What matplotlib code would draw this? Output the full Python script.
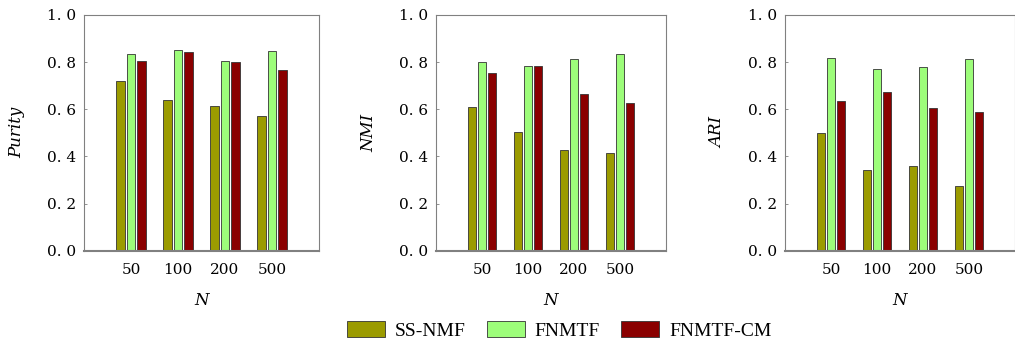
import matplotlib
matplotlib.use("Agg")
import matplotlib.pyplot as plt
import numpy as np
from matplotlib.patches import Patch

categories = ["50", "100", "200", "500"]
series_names = ["SS-NMF", "FNMTF", "FNMTF-CM"]
purity = {
    "SS-NMF": [0.719, 0.639, 0.614, 0.573],
    "FNMTF": [0.834, 0.851, 0.805, 0.847],
    "FNMTF-CM": [0.805, 0.842, 0.800, 0.768],
}
nmi = {
    "SS-NMF": [0.608, 0.505, 0.427, 0.416],
    "FNMTF": [0.799, 0.782, 0.812, 0.834],
    "FNMTF-CM": [0.755, 0.782, 0.664, 0.628],
}
ari = {
    "SS-NMF": [0.498, 0.341, 0.359, 0.273],
    "FNMTF": [0.816, 0.771, 0.779, 0.812],
    "FNMTF-CM": [0.636, 0.673, 0.604, 0.587],
}
ylabels = ["Purity", "NMI", "ARI"]
yticks = [0.0, 0.2, 0.4, 0.6, 0.8, 1.0]
ytick_labels = ["0. 0", "0. 2", "0. 4", "0. 6", "0. 8", "1. 0"]
colors = {"SS-NMF": "#9b9b00", "FNMTF": "#9dfd7a", "FNMTF-CM": "#8a0000"}

plt.rcParams['font.family'] = ['DejaVu Serif']

fig = plt.figure(figsize=(10.15, 3.42), dpi=100)
lefts = [84/1015, 436/1015, 785/1015]
widths = [235/1015, 230/1015, 230/1015]
bottom = 1 - 250.7/342
height = (250.7 - 15)/342

offsets = [-0.225, 0.0, 0.225]
bw = 0.175
x = np.arange(1, len(categories) + 1)
for i, (data, yl) in enumerate(zip([purity, nmi, ari], ylabels)):
    ax = fig.add_axes([lefts[i], bottom, widths[i], height])
    for s, off in zip(series_names, offsets):
        ax.bar(x + off, data[s], width=bw, color=colors[s], edgecolor="#333333", linewidth=0.6)
    ax.set_xlim(0, 5)
    ax.set_ylim(0, 1.0)
    ax.set_xticks(x)
    ax.set_xticklabels(categories, fontsize=11)
    ax.set_yticks(yticks)
    ax.set_yticklabels(ytick_labels, fontsize=11)
    ax.tick_params(axis="y", direction="in", length=2, width=0.6, color="#808080", pad=6)
    ax.tick_params(axis="x", length=0, pad=9)
    for sp in ["top", "right", "left"]:
        ax.spines[sp].set_color("#808080")
        ax.spines[sp].set_linewidth(0.8)
    ax.spines["bottom"].set_color("#808080")
    ax.spines["bottom"].set_linewidth(1.5)
    ax.set_ylabel(yl, fontsize=12, style="italic", labelpad=15)
    ax.set_xlabel("N", fontsize=12, style="italic", labelpad=11)

handles = [Patch(facecolor=colors[s], edgecolor="#333333", linewidth=0.6, label=s) for s in series_names]
fig.legend(handles=handles, loc="lower center", bbox_to_anchor=(0.551, -0.045), ncol=3,
           frameon=False, prop={"family": "Liberation Serif", "size": 14},
           handlelength=1.95, handleheight=0.9, columnspacing=1.1, handletextpad=0.5)

fig.savefig("out.png", dpi=100)
